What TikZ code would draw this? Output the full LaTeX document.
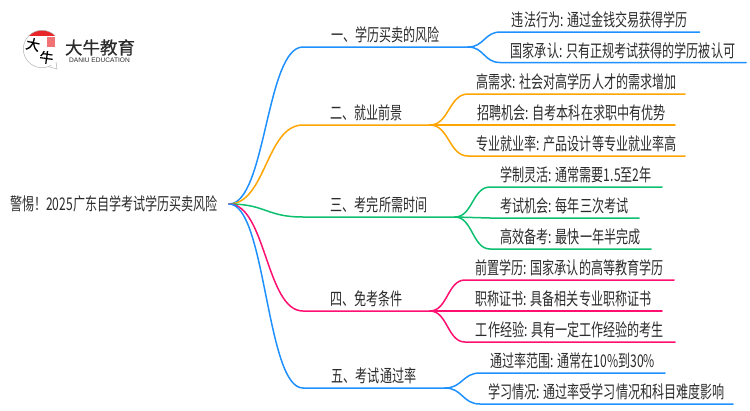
\documentclass[tikz,border=0pt]{standalone}
\usepackage{fontspec}
\usepackage{tikz}
\usetikzlibrary{calc}
\newfontfamily\cjk[FakeStretch=0.69]{Noto Sans CJK SC}
\newfontfamily\cjkbold[FakeBold=0.6]{Noto Sans CJK SC}
\newfontfamily\latinlogo{Liberation Sans}
\definecolor{lineblue}{HTML}{1E90FF}
\definecolor{lineorange}{HTML}{FFA500}
\definecolor{linegreen}{HTML}{0CC070}
\definecolor{linepink}{HTML}{FF0F70}
\definecolor{inkgray}{HTML}{2B2B2B}
\definecolor{capred}{HTML}{E8262A}

\begin{document}
\begin{tikzpicture}[x=1pt, y=-1pt,% styles used in image code
topic/.style = {anchor=south, inner xsep=0pt, inner ysep=4pt, outer sep=0pt,
                text=inkgray, font=\cjk\fontsize{17.5}{17.5}\selectfont},
 link/.style = {line width=1.5pt, line cap=round},
scurve/.style = {to path={let \p1=(\tikztostart), \p2=(\tikztotarget) in
                 .. controls ({0.5*(\x1+\x2)},\y1) and ({0.5*(\x1+\x2)},\y2) .. (\tikztotarget)}}
                    ]
	\useasboundingbox (0,0) rectangle (750,410);

	% logo
	\coordinate (bubble) at (42,49);
	\coordinate (tail) at (57,69);
	\begin{scope}
		\clip (bubble) circle (18.7);
		\fill[capred] (23,29) rectangle (61,35.5);
	\end{scope}
	\draw[gray!60, line width=0.5pt] (48,66.5) -- (tail) -- (56,62);
	\draw[gray!60, line width=0.5pt] (bubble) ++(-45:18.7) arc (-45:-300:18.7);
	\fill[capred!65] (47,37) rectangle (54.5,46.5);
	\node[inner sep=0pt, rotate=-12, text=black, font=\cjkbold\fontsize{14}{14}\selectfont] (logoda) at (33,44.5) {大};
	\node[inner sep=0pt, rotate=-8, text=black, font=\cjkbold\fontsize{14}{14}\selectfont] (logoniu) at (46.5,57.5) {牛};
	\node[inner sep=0pt, text=inkgray, font=\cjkbold\fontsize{17.5}{17.5}\selectfont] (logoname) at (100,47.5) {大牛教育};
	\node[inner sep=0pt, text=inkgray, font=\latinlogo\fontsize{6.6}{7}\selectfont] (logosub) at (99.5,60.5) {DANIU EDUCATION};

	% root
	\node[anchor=east, inner xsep=11pt, inner ysep=0pt, outer sep=0pt, text=inkgray,
	      font=\cjk\fontsize{17.5}{17.5}\selectfont] (root) at (229,204) {警惕！2025广东自学考试学历买卖风险};

	% first level
	\node[topic, minimum width=165pt] (one)   at (385.5,47)  {一、学历买卖的风险};
	\node[topic, minimum width=127pt] (two)   at (366.5,125) {二、就业前景};
	\node[topic, minimum width=152pt] (three) at (379,217)   {三、考完所需时间};
	\node[topic, minimum width=127pt] (four)  at (366.5,311) {四、免考条件};
	\node[topic, minimum width=142pt] (five)  at (374,388)   {五、考试通过率};

	% second level
	\node[topic, minimum width=199pt] (oneA)   at (600,32)    {违法行为: 通过金钱交易获得学历};
	\node[topic, minimum width=246pt] (oneB)   at (623,62.5)  {国家承认: 只有正规考试获得的学历被认可};
	\node[topic, minimum width=217pt] (twoA)   at (576.5,94)  {高需求: 社会对高学历人才的需求增加};
	\node[topic, minimum width=207pt] (twoB)   at (571.5,125) {招聘机会: 自考本科在求职中有优势};
	\node[topic, minimum width=217pt] (twoC)   at (576.5,156) {专业就业率: 产品设计等专业就业率高};
	\node[topic, minimum width=172pt] (threeA) at (576,187)   {学制灵活: 通常需要1.5至2年};
	\node[topic, minimum width=149pt] (threeB) at (564.5,218) {考试机会: 每年三次考试};
	\node[topic, minimum width=161pt] (threeC) at (570.5,249) {高效备考: 最快一年半完成};
	\node[topic, minimum width=209pt] (fourA)  at (569.5,280) {前置学历: 国家承认的高等教育学历};
	\node[topic, minimum width=197pt] (fourB)  at (563.5,311) {职称证书: 具备相关专业职称证书};
	\node[topic, minimum width=210pt] (fourC)  at (570,342)   {工作经验: 具有一定工作经验的考生};
	\node[topic, minimum width=185pt] (fiveA)  at (572.5,373) {通过率范围: 通常在10\%到30\%};
	\node[topic, minimum width=253pt] (fiveB)  at (606.5,404) {学习情况: 通过率受学习情况和科目难度影响};

	% branches
	\draw[link, lineblue] (root.east) to[scurve] (one.south west) -- (one.south east);
	\draw[link, lineorange] (root.east) to[scurve] (two.south west) -- (two.south east);
	\draw[link, linegreen] (root.east) to[scurve] (three.south west) -- (three.south east);
	\draw[link, linepink] (root.east) to[scurve] (four.south west) -- (four.south east);
	\draw[link, lineblue] (root.east) to[scurve] (five.south west) -- (five.south east);

	% leaves
	\draw[link, lineblue] (one.south east) to[scurve] (oneA.south west) -- (oneA.south east);
	\draw[link, lineblue] (one.south east) to[scurve] (oneB.south west) -- (oneB.south east);
	\draw[link, lineorange] (two.south east) to[scurve] (twoA.south west) -- (twoA.south east);
	\draw[link, lineorange] (two.south east) -- (twoB.south west) -- (twoB.south east);
	\draw[link, lineorange] (two.south east) to[scurve] (twoC.south west) -- (twoC.south east);
	\draw[link, linegreen] (three.south east) to[scurve] (threeA.south west) -- (threeA.south east);
	\draw[link, linegreen] (three.south east) -- (threeB.south west) -- (threeB.south east);
	\draw[link, linegreen] (three.south east) to[scurve] (threeC.south west) -- (threeC.south east);
	\draw[link, linepink] (four.south east) to[scurve] (fourA.south west) -- (fourA.south east);
	\draw[link, linepink] (four.south east) -- (fourB.south west) -- (fourB.south east);
	\draw[link, linepink] (four.south east) to[scurve] (fourC.south west) -- (fourC.south east);
	\draw[link, lineblue] (five.south east) to[scurve] (fiveA.south west) -- (fiveA.south east);
	\draw[link, lineblue] (five.south east) to[scurve] (fiveB.south west) -- (fiveB.south east);
\end{tikzpicture}
\end{document}
